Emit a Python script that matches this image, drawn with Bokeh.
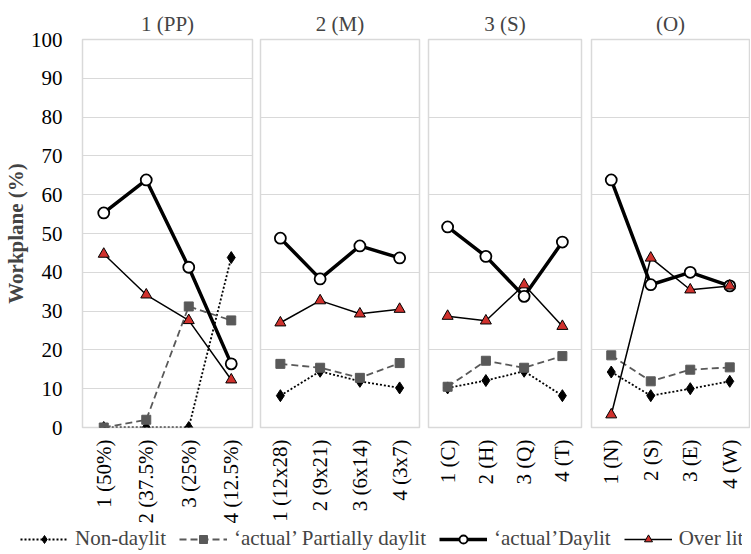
import math
from bokeh.plotting import figure
from bokeh.layouts import column, row
from bokeh.models import Range1d, FactorRange, Legend, LegendItem, ColumnDataSource
from bokeh.embed import file_html
from bokeh.resources import INLINE

FONT = "Liberation Serif"

panel_titles = ["1 (PP)", "2 (M)", "3 (S)", "(O)"]
categories = [
    ["1 (50%)", "2 (37.5%)", "3 (25%)", "4 (12.5%)"],
    ["1 (12x28)", "2 (9x21)", "3 (6x14)", "4 (3x7)"],
    ["1 (C)", "2 (H)", "3 (Q)", "4 (T)"],
    ["1 (N)", "2 (S)", "3 (E)", "4 (W)"],
]
non_daylit = [
    [0.0, 0.0, 0.0, 43.8],
    [8.2, 14.5, 11.9, 10.2],
    [10.2, 12.1, 14.5, 8.2],
    [14.3, 8.2, 10.0, 11.9],
]
partially_daylit = [
    [0.0, 2.0, 31.2, 27.6],
    [16.4, 15.4, 12.8, 16.6],
    [10.5, 17.2, 15.4, 18.4],
    [18.6, 11.9, 14.9, 15.5],
]
daylit = [
    [55.3, 63.8, 41.3, 16.4],
    [48.8, 38.3, 46.8, 43.7],
    [51.7, 44.1, 33.8, 47.8],
    [63.8, 36.8, 40.0, 36.5],
]
over_lit = [
    [44.7, 34.2, 27.6, 12.3],
    [27.0, 32.7, 29.3, 30.5],
    [28.7, 27.5, 36.8, 26.1],
    [3.3, 43.7, 35.5, 36.5],
]
series_labels = ["Non-daylit", "\u2018actual\u2019 Partially daylit", "\u2018actual\u2019Daylit", "Over lit"]
y_ticks = list(range(0, 101, 10))

GRID = "#d9d9d9"
GRAY = "#595959"
RED = "#d0312d"

frame_widths = [170, 159, 153, 158]
borders = [(74, 4), (4, 4), (5, 5), (5, 1)]


def draw_series(p, src):
    rs = []
    rs.append((p.line("x", "nd", source=src, line_color="black", line_width=1.8, line_dash="2 2"),
               p.scatter("x", "nd", source=src, marker="diamond", size=12, fill_color="black", line_color="black")))
    rs.append((p.line("x", "pd", source=src, line_color=GRAY, line_width=1.8, line_dash="7 4"),
               p.scatter("x", "pd", source=src, marker="square", size=9, fill_color=GRAY, line_color=GRAY)))
    rs.append((p.line("x", "dl", source=src, line_color="black", line_width=3.5),
               p.scatter("x", "dl", source=src, marker="circle", size=11, fill_color="white", line_color="black", line_width=1.8)))
    rs.append((p.line("x", "ol", source=src, line_color="black", line_width=1.5),
               p.scatter("x", "ol", source=src, marker="triangle", size=11, fill_color=RED, line_color="black", line_width=1)))
    return rs


def make_source(i):
    return ColumnDataSource(dict(x=categories[i], nd=non_daylit[i], pd=partially_daylit[i],
                                 dl=daylit[i], ol=over_lit[i]))


figs = []
for i in range(4):
    bl, br = borders[i]
    kw = {}
    if i > 0:
        kw["y_axis_location"] = None
    p = figure(x_range=FactorRange(*categories[i]), y_range=Range1d(0, 100),
               frame_width=frame_widths[i], frame_height=388,
               min_border_left=bl, min_border_right=br, min_border_top=39, min_border_bottom=100,
               output_backend="svg", toolbar_location=None, title=panel_titles[i], **kw)
    p.title.text_font = FONT
    p.title.text_font_size = "21px"
    p.title.text_font_style = "normal"
    p.title.align = "center"
    p.title.standoff = 8
    p.outline_line_color = GRID
    p.outline_line_width = 1.5
    p.xgrid.visible = False
    p.ygrid.grid_line_color = GRID
    p.ygrid.grid_line_width = 1.2
    p.yaxis.ticker = y_ticks
    xa = p.xaxis[0]
    xa.axis_line_color = None
    xa.major_tick_line_color = None
    xa.minor_tick_line_color = None
    xa.major_tick_out = 0
    xa.major_tick_in = 0
    xa.major_label_orientation = math.pi / 2
    xa.major_label_text_font = FONT
    xa.major_label_text_font_size = "21px"
    xa.major_label_text_color = "black"
    xa.major_label_standoff = 12
    if i == 0:
        ya = p.yaxis[0]
        ya.axis_line_color = None
        ya.major_tick_line_color = None
        ya.minor_tick_line_color = None
        ya.major_tick_out = 0
        ya.major_tick_in = 0
        ya.minor_tick_out = 0
        ya.major_label_text_font = FONT
        ya.major_label_text_font_size = "21px"
        ya.major_label_text_color = "black"
        ya.major_label_standoff = 20
        ya.axis_label = "Workplane (%)"
        ya.axis_label_text_font = FONT
        ya.axis_label_text_font_size = "21px"
        ya.axis_label_text_font_style = "bold"
        ya.axis_label_standoff = 0
    draw_series(p, make_source(i))
    figs.append(p)

# legend strip: same series drawn with a y-range that keeps them out of view
lf = figure(width=742, height=24, x_range=FactorRange(*categories[0]), y_range=Range1d(500, 501),
            output_backend="svg", toolbar_location=None, min_border=0,
            x_axis_location=None, y_axis_location=None)
lf.outline_line_color = None
lf.grid.visible = False
lrs = draw_series(lf, make_source(0))
legend = Legend(items=[LegendItem(label=series_labels[k], renderers=list(lrs[k]), index=0) for k in range(4)],
                orientation="horizontal", location=(20, 0), glyph_width=48, glyph_height=20,
                label_standoff=7, spacing=13, padding=0, margin=0, border_line_color=None,
                background_fill_alpha=0, label_text_font=FONT, label_text_font_size="21px")
lf.add_layout(legend, "center")

layout = column(row(*figs), lf)
open("out.html", "w").write(file_html(layout, INLINE))
